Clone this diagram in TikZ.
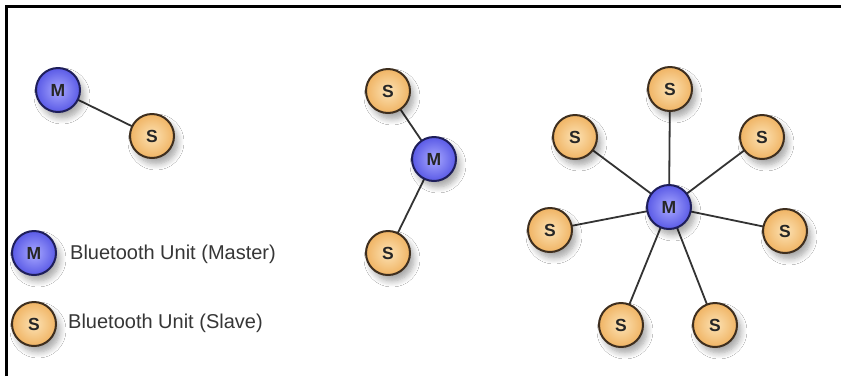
\documentclass[tikz,border=0pt]{standalone}
\usepackage{fontspec}
\setmainfont{Liberation Sans}
\usetikzlibrary{shadows.blur}
\definecolor{mfillin}{HTML}{A8A8FF}
\definecolor{mfillout}{HTML}{5A5AE6}
\definecolor{mborder}{HTML}{1E1E5A}
\definecolor{sfillin}{HTML}{FCE2B4}
\definecolor{sfillout}{HTML}{F0B464}
\definecolor{sborder}{HTML}{3E2E1E}
\definecolor{linkc}{HTML}{333333}
\definecolor{textc}{HTML}{363636}
\tikzset{
  unit/.style={circle, minimum size=44pt, inner sep=0pt, line width=2pt,
    font=\fontsize{17.5}{17.5}\selectfont\bfseries, text=black!85,
    blur shadow={shadow xshift=4pt, shadow yshift=-6pt, shadow blur steps=8, shadow opacity=35, shadow blur radius=6pt}},
  master/.style={unit, draw=mborder, inner color=mfillin, outer color=mfillout},
  slave/.style={unit, draw=sborder, inner color=sfillin, outer color=sfillout},
  link/.style={draw=linkc, line width=1.8pt},
  legendtext/.style={anchor=west, text=textc, font=\fontsize{20}{20}\selectfont, inner sep=0pt},
  frameline/.style={line width=2.6pt, black}
}
\begin{document}
\begin{tikzpicture}[x=1pt,y=-1pt]
\useasboundingbox (0,0) rectangle (841,376);
\fill[white] (0,0) rectangle (841,376);
\draw[frameline] (6.5,376) -- (6.5,6.2) -- (841,6.2);
% left pair
\coordinate (pm) at (58,90);
\coordinate (ps) at (152,136);
% middle
\coordinate (bm) at (434,159);
\coordinate (bs1) at (388,91);
\coordinate (bs2) at (388,253);
% star
\coordinate (cm) at (669,207);
\coordinate (c1) at (670,89);
\coordinate (c2) at (575,137);
\coordinate (c3) at (762,137);
\coordinate (c4) at (550,230);
\coordinate (c5) at (785,231);
\coordinate (c6) at (621,325);
\coordinate (c7) at (715,325);
% links
\draw[link] (pm) -- (ps);
\draw[link] (bm) -- (bs1);
\draw[link] (bm) -- (bs2);
\foreach \s in {c1,c2,c3,c4,c5,c6,c7} \draw[link] (cm) -- (\s);
% nodes
\node[master] (m1) at (pm) {M};
\node[slave] (s1) at (ps) {S};
\node[slave] (s2) at (bs1) {S};
\node[master] (m2) at (bm) {M};
\node[slave] (s3) at (bs2) {S};
\node[master] (m3) at (cm) {M};
\node[slave] (t1) at (c1) {S};
\node[slave] (t2) at (c2) {S};
\node[slave] (t3) at (c3) {S};
\node[slave] (t4) at (c4) {S};
\node[slave] (t5) at (c5) {S};
\node[slave] (t6) at (c6) {S};
\node[slave] (t7) at (c7) {S};
% legend
\node[master] (lm) at (34,253) {M};
\node[slave] (ls) at (34,324) {S};
\node[legendtext] (lmt) at (70,254) {Bluetooth Unit (Master)};
\node[legendtext] (lst) at (68,323) {Bluetooth Unit (Slave)};
\end{tikzpicture}
\end{document}
